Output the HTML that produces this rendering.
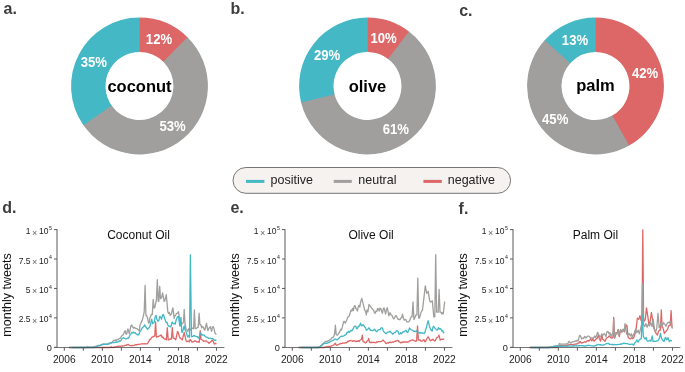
<!DOCTYPE html>
<html><head><meta charset="utf-8"><style>
html,body{margin:0;padding:0;background:#fff;}
body{width:685px;height:372px;overflow:hidden;position:relative;font-family:"Liberation Sans", sans-serif;}
svg{position:absolute;left:0;top:0;will-change:transform;}
text{font-family:"Liberation Sans", sans-serif;}
.pl{font-size:16px;font-weight:bold;fill:#3d3d3d;}
.pct{font-size:14px;font-weight:bold;fill:#fff;text-anchor:middle;}
.ctr{font-size:16.5px;font-weight:bold;fill:#000;text-anchor:middle;}
.lg{font-size:13px;fill:#222;}
.xt{font-size:10.2px;fill:#222;text-anchor:middle;}
.yt{font-size:8.5px;fill:#222;}
.tm{font-size:9px;fill:#666;}
.sup{font-size:5.2px;fill:#222;}
.ttl{font-size:12px;fill:#111;text-anchor:middle;}
.ylab{font-size:12.5px;fill:#111;text-anchor:middle;}
</style></head><body>
<svg width="685" height="372" viewBox="0 0 685 372">
<text x="3.6" y="13.9" class="pl">a.</text>
<text x="230.6" y="13.9" class="pl">b.</text>
<text x="459.2" y="15.7" class="pl">c.</text>
<text x="2.2" y="212.9" class="pl">d.</text>
<text x="230.4" y="213.1" class="pl">e.</text>
<text x="458.6" y="214.4" class="pl">f.</text>
<path d="M71.70,86 a67.80000000000001,67.80000000000001 0 1 0 135.60,0 a67.80000000000001,67.80000000000001 0 1 0 -135.60,0 Z M104.90,86 a34.6,34.6 0 1 1 69.20,0 a34.6,34.6 0 1 1 -69.20,0 Z" fill="#44b8c5" fill-rule="evenodd"/>
<path d="M139.50,17.60 A68.4,68.4 0 0 1 187.92,37.68 L163.57,61.98 A34,34 0 0 0 139.50,52.00 Z" fill="#dd6767"/>
<text x="159.00" y="44.25" class="pct" textLength="26.3" lengthAdjust="spacingAndGlyphs">12%</text>
<path d="M187.41,37.18 A68.4,68.4 0 1 1 83.01,124.56 L111.42,105.17 A34,34 0 1 0 163.31,61.73 Z" fill="#a09f9d"/>
<text x="172.56" y="130.81" class="pct" textLength="26.3" lengthAdjust="spacingAndGlyphs">53%</text>
<path d="M83.42,125.15 A68.4,68.4 0 0 1 139.50,17.60 L139.50,52.00 A34,34 0 0 0 111.62,105.46 Z" fill="#44b8c5"/>
<text x="93.78" y="67.36" class="pct" textLength="26.3" lengthAdjust="spacingAndGlyphs">35%</text>
<text x="139.5" y="91.7" class="ctr">coconut</text>
<path d="M299.70,86 a67.80000000000001,67.80000000000001 0 1 0 135.60,0 a67.80000000000001,67.80000000000001 0 1 0 -135.60,0 Z M332.90,86 a34.6,34.6 0 1 1 69.20,0 a34.6,34.6 0 1 1 -69.20,0 Z" fill="#44b8c5" fill-rule="evenodd"/>
<path d="M367.50,17.60 A68.4,68.4 0 0 1 409.48,32.00 L388.37,59.16 A34,34 0 0 0 367.50,52.00 Z" fill="#dd6767"/>
<text x="383.62" y="43.21" class="pct" textLength="26.3" lengthAdjust="spacingAndGlyphs">10%</text>
<path d="M408.91,31.56 A68.4,68.4 0 1 1 300.97,101.90 L334.43,93.90 A34,34 0 1 0 388.08,58.94 Z" fill="#a09f9d"/>
<text x="395.78" y="134.15" class="pct" textLength="26.3" lengthAdjust="spacingAndGlyphs">61%</text>
<path d="M301.14,102.59 A68.4,68.4 0 0 1 367.50,17.60 L367.50,52.00 A34,34 0 0 0 334.52,94.25 Z" fill="#44b8c5"/>
<text x="327.04" y="59.52" class="pct" textLength="26.3" lengthAdjust="spacingAndGlyphs">29%</text>
<text x="367.5" y="91.7" class="ctr">olive</text>
<path d="M527.70,86 a67.80000000000001,67.80000000000001 0 1 0 135.60,0 a67.80000000000001,67.80000000000001 0 1 0 -135.60,0 Z M560.90,86 a34.6,34.6 0 1 1 69.20,0 a34.6,34.6 0 1 1 -69.20,0 Z" fill="#44b8c5" fill-rule="evenodd"/>
<path d="M595.50,17.60 A68.4,68.4 0 0 1 628.58,145.87 L611.94,115.76 A34,34 0 0 0 595.50,52.00 Z" fill="#dd6767"/>
<text x="645.09" y="78.17" class="pct" textLength="26.3" lengthAdjust="spacingAndGlyphs">42%</text>
<path d="M629.20,145.52 A68.4,68.4 0 0 1 545.25,39.60 L570.52,62.93 A34,34 0 0 0 612.25,115.59 Z" fill="#a09f9d"/>
<text x="555.21" y="123.58" class="pct" textLength="26.3" lengthAdjust="spacingAndGlyphs">45%</text>
<path d="M544.76,40.13 A68.4,68.4 0 0 1 595.50,17.60 L595.50,52.00 A34,34 0 0 0 570.28,63.20 Z" fill="#44b8c5"/>
<text x="575.02" y="44.51" class="pct" textLength="26.3" lengthAdjust="spacingAndGlyphs">13%</text>
<text x="595.5" y="90.5" class="ctr">palm</text>
<rect x="233" y="167.5" width="277.6" height="25.8" rx="12.9" ry="12.9" fill="#f5f2ef" stroke="#767676" stroke-width="1"/>
<path d="M246,181.4 H264.4" stroke="#44b8c5" stroke-width="3"/>
<path d="M333.7,181.4 H351.8" stroke="#a09f9d" stroke-width="3"/>
<path d="M423.4,181.4 H441.8" stroke="#dd6767" stroke-width="3"/>
<text x="270.5" y="184.4" class="lg" textLength="42.4" lengthAdjust="spacingAndGlyphs">positive</text>
<text x="358.3" y="184.4" class="lg" textLength="38.2" lengthAdjust="spacingAndGlyphs">neutral</text>
<text x="447.8" y="184.4" class="lg" textLength="47.2" lengthAdjust="spacingAndGlyphs">negative</text>
<polyline points="68.9,347.5 69.0,347.5 69.8,347.5 70.6,347.5 71.4,347.5 72.2,347.5 73.0,347.5 73.8,347.5 74.6,347.5 75.4,347.5 76.2,347.5 77.0,347.5 77.8,347.5 78.6,347.5 79.4,347.5 80.2,347.5 81.0,347.5 81.8,347.5 82.6,347.5 83.4,347.5 84.2,347.5 85.0,347.5 85.7,347.5 86.5,347.5 87.3,347.5 88.1,347.5 88.9,347.5 89.7,347.5 90.5,347.5 91.3,347.5 92.1,347.5 92.9,347.5 93.7,347.5 94.5,347.5 95.3,347.5 96.1,347.5 96.9,347.5 97.7,347.5 98.5,347.5 99.3,347.5 100.1,347.5 100.9,347.5 101.7,347.5 102.5,347.5 103.3,347.5 104.1,347.5 104.9,347.5 105.7,347.5 106.5,347.5 107.3,347.5 108.1,347.5 108.8,347.5 109.6,347.5 110.4,347.5 111.2,346.8 112.0,347.5 112.8,347.5 113.6,346.9 114.4,347.5 115.2,346.8 116.0,346.6 116.7,346.6 117.5,346.3 118.3,346.5 119.0,346.1 119.8,346.1 120.6,346.3 121.3,346.1 122.1,345.9 122.8,346.2 123.6,345.9 124.4,345.8 125.1,345.4 125.9,345.4 126.6,344.9 127.2,345.0 127.9,344.4 128.6,344.6 129.3,345.4 130.0,345.7 130.8,345.7 131.5,345.5 132.3,345.4 133.0,345.6 133.8,345.3 134.5,345.0 135.3,345.0 136.1,344.6 136.9,344.8 137.7,344.4 138.4,344.4 139.2,344.3 140.0,344.2 140.8,344.1 141.7,343.9 142.5,343.6 143.3,343.9 144.2,343.9 145.0,343.6 145.8,343.8 146.7,343.8 147.5,343.6 148.3,342.2 149.0,341.1 149.8,339.4 150.5,339.3 151.3,338.0 152.0,337.0 152.7,337.0 153.4,336.7 154.1,336.1 154.8,336.1 155.6,322.0 156.4,337.0 156.9,337.0 157.7,336.7 158.4,336.7 159.2,335.8 159.9,335.9 160.7,335.2 161.4,335.0 162.1,337.5 162.8,337.0 163.5,338.0 164.2,338.8 164.9,339.1 165.6,339.2 166.3,339.9 167.3,327.7 168.2,339.9 168.9,339.8 169.6,339.1 170.3,338.8 171.0,339.0 171.5,339.0 172.3,327.7 173.2,338.0 173.8,338.0 174.8,338.8 175.7,339.9 177.6,331.4 178.6,333.6 179.5,337.0 180.2,338.1 180.9,338.6 181.6,338.8 182.3,339.9 184.2,332.3 186.1,340.8 186.9,341.6 187.6,341.3 188.4,341.0 189.2,341.7 190.1,339.4 190.8,340.6 191.4,340.7 192.1,342.1 193.0,341.8 193.9,341.4 194.8,340.8 195.7,341.1 196.6,341.7 197.5,342.1 198.4,341.9 199.3,342.1 200.2,330.7 201.0,339.4 201.6,339.4 202.3,340.1 202.9,340.3 203.6,341.4 204.5,341.1 205.4,341.1 206.3,340.8 207.2,341.9 208.1,342.2 209.0,343.4 209.8,342.5 210.7,341.8 211.5,341.0 212.3,340.1 213.0,341.0 213.6,342.0 214.3,344.1 215.7,343.4 216.5,343.5" fill="none" stroke="#dd6767" stroke-width="1.3" stroke-linejoin="round"/>
<polyline points="68.9,347.5 69.0,347.5 69.8,347.5 70.6,347.5 71.4,347.5 72.2,347.5 73.0,347.5 73.8,347.5 74.6,347.5 75.4,347.5 76.2,347.5 77.0,347.5 77.8,347.5 78.6,347.5 79.4,347.5 80.2,347.5 81.0,347.5 81.8,347.5 82.6,347.5 83.4,347.5 84.2,347.5 85.0,347.5 85.8,347.5 86.6,347.5 87.4,346.8 88.2,347.5 89.0,346.9 89.8,347.5 90.6,347.5 91.4,347.5 92.2,347.5 93.0,347.5 93.7,346.8 94.3,346.5 95.0,346.4 95.8,346.3 96.6,346.0 97.4,345.7 98.2,345.4 99.0,345.5 99.9,345.3 100.7,344.9 101.5,344.9 102.3,344.7 103.1,344.4 103.9,343.8 104.6,344.0 105.4,344.3 106.1,344.3 106.9,343.8 107.6,344.0 108.4,343.7 109.2,343.1 110.1,343.0 111.0,342.6 111.8,342.3 112.5,341.9 113.1,341.0 113.8,340.3 114.6,340.4 115.4,339.8 116.2,340.5 117.0,339.5 117.8,339.7 118.7,339.0 119.6,338.5 120.5,338.3 121.2,336.6 121.9,335.6 122.6,335.0 123.3,334.8 123.9,333.1 124.6,331.6 125.3,330.7 125.9,334.0 126.6,334.3 127.9,328.9 129.3,333.6 131.0,325.5 131.8,325.0 132.6,326.9 133.5,328.0 134.4,327.4 135.3,328.2 136.2,328.6 137.1,328.6 138.0,329.6 139.4,330.9 140.0,324.8 140.7,323.5 141.4,321.8 142.1,320.6 142.8,318.3 144.2,312.0 145.1,285.3 145.9,315.5 146.6,315.5 147.6,318.3 148.5,323.0 149.2,322.8 149.9,317.9 150.6,316.6 151.3,314.5 152.3,314.5 153.2,299.5 154.0,307.9 154.7,307.9 156.4,300.0 157.3,279.7 158.2,301.3 158.8,301.3 159.7,286.3 160.5,298.5 161.0,298.5 161.8,296.9 162.6,292.9 164.1,301.3 164.8,300.9 165.6,297.4 166.3,294.7 167.8,311.7 168.6,313.5 169.3,312.3 170.1,315.4 170.8,314.2 171.5,314.1 172.2,310.3 172.9,307.9 174.2,318.3 174.9,315.7 175.7,315.4 176.4,313.5 177.1,313.4 177.8,312.6 178.5,311.7 180.4,325.8 181.4,323.7 182.3,323.9 183.5,322.0 184.2,309.5 185.0,324.0 186.1,329.5 187.0,329.8 187.9,331.4 188.8,328.6 189.6,330.5 190.4,330.0 191.2,328.0 192.1,328.6 192.8,328.1 193.6,328.6 194.4,309.8 195.2,328.6 196.2,328.6 197.5,327.3 198.2,327.3 199.1,313.2 199.9,324.6 200.9,324.6 201.6,327.8 202.2,327.1 202.9,326.6 203.6,327.6 204.2,329.6 204.9,330.0 206.5,323.3 207.9,330.7 208.7,328.7 209.5,327.6 210.3,326.6 211.6,331.3 212.4,327.1 213.3,326.6 214.1,328.9 214.9,332.9 215.7,334.0 216.5,334.5" fill="none" stroke="#a09f9d" stroke-width="1.3" stroke-linejoin="round"/>
<polyline points="71.9,347.5 72.7,347.5 73.5,347.5 74.3,347.5 75.1,347.5 75.9,347.5 76.7,347.5 77.4,347.5 78.2,347.5 79.0,347.5 79.8,347.5 80.6,347.5 81.4,347.5 82.2,347.5 83.0,347.5 83.8,347.5 84.6,347.5 85.4,347.5 86.2,347.5 87.0,347.5 87.8,347.5 88.5,347.5 89.3,347.5 90.1,347.5 90.9,347.5 91.7,346.9 92.5,347.5 93.3,347.5 94.2,347.5 95.0,347.5 95.8,346.8 96.6,346.4 97.4,346.0 98.2,346.0 99.0,345.7 99.9,345.7 100.7,345.2 101.5,344.5 102.3,344.5 103.1,344.4 103.9,344.0 104.6,344.4 105.4,344.5 106.1,344.2 106.9,344.3 107.6,344.4 108.4,344.1 109.2,343.9 110.1,343.2 111.0,342.9 111.8,343.0 112.7,342.5 113.5,342.7 114.3,342.5 115.2,342.3 116.0,341.9 116.8,342.4 117.7,341.8 118.5,341.7 119.4,340.7 120.3,341.2 121.2,340.3 121.9,338.7 122.5,338.3 123.2,337.6 124.1,338.1 125.0,338.5 125.9,339.0 126.8,338.8 127.7,338.0 128.6,338.3 129.3,336.6 129.9,335.2 130.6,334.3 132.0,332.3 132.7,333.1 133.3,332.1 134.0,332.9 134.9,332.5 135.8,333.7 136.7,334.3 137.4,334.9 138.0,334.3 138.7,334.9 140.0,331.4 140.9,330.4 141.9,328.6 142.6,327.3 143.3,327.1 144.0,326.3 144.7,324.8 145.4,326.4 146.1,327.2 146.8,328.2 147.5,329.5 148.2,328.2 148.9,328.1 149.6,327.1 150.3,324.8 151.7,319.2 152.6,323.5 153.5,323.0 154.3,322.1 155.2,316.8 156.0,315.4 156.9,319.3 157.9,321.1 158.8,320.9 159.7,316.4 160.6,317.0 161.6,319.2 162.6,314.8 163.5,314.5 164.4,318.1 165.4,320.2 166.2,322.6 167.0,322.3 167.8,324.8 168.6,326.1 169.3,326.0 170.1,326.7 170.8,327.0 171.6,323.8 172.3,322.0 173.1,323.4 173.8,323.9 174.6,323.2 175.3,324.0 176.1,320.2 176.9,318.0 177.7,316.6 178.5,316.4 179.8,325.8 181.0,317.4 181.8,332.3 182.3,332.3 183.2,329.5 184.2,325.8 184.9,329.5 185.6,330.9 186.3,332.0 187.0,335.2 187.7,336.8 188.5,335.6 189.2,337.0 189.5,337.3 190.4,254.9 191.5,336.7 192.4,336.7 193.3,335.9 194.2,335.4 195.1,336.2 195.9,336.4 196.8,336.7 197.5,336.7 198.2,337.9 198.9,338.1 200.2,333.4 200.9,332.9 201.5,335.0 202.2,334.7 203.1,335.1 204.0,335.0 204.9,336.0 205.8,336.8 206.7,337.1 207.6,337.4 208.5,338.4 209.4,338.1 210.3,338.1 211.2,338.8 212.1,338.4 213.0,338.7 213.9,339.9 214.8,340.3 215.7,340.1 216.5,340.3" fill="none" stroke="#44b8c5" stroke-width="1.3" stroke-linejoin="round"/>
<polyline points="298.6,347.5 299.4,347.5 300.2,347.5 301.0,347.5 301.8,347.5 302.6,347.5 303.4,347.5 304.2,347.5 304.9,347.5 305.7,347.5 306.5,347.5 307.3,347.5 308.1,347.5 308.9,347.5 309.7,347.5 310.5,347.5 311.3,347.5 312.1,347.5 312.9,347.5 313.7,347.5 314.5,347.5 315.3,347.5 316.0,347.5 316.8,347.5 317.6,347.5 318.4,347.5 319.2,347.5 320.0,347.5 320.8,347.5 321.6,347.5 322.4,347.5 323.2,347.5 324.0,347.5 324.8,347.5 325.6,346.9 326.4,346.8 327.2,346.6 328.0,346.5 328.8,346.4 329.5,346.5 330.3,346.4 331.1,346.1 331.8,345.9 332.5,345.7 333.2,345.1 333.9,344.9 335.3,343.2 336.2,345.1 337.0,345.3 337.8,344.7 338.6,344.6 340.0,343.7 340.8,343.5 341.5,343.4 342.2,343.6 343.0,343.0 343.8,343.1 344.5,343.2 345.3,342.7 346.1,342.9 346.9,342.2 347.8,341.2 348.6,341.6 349.4,340.8 350.2,340.5 351.0,340.7 351.8,340.8 352.6,341.4 353.4,340.7 354.2,340.8 355.0,341.0 355.8,341.7 356.6,341.1 357.4,341.4 358.2,340.8 359.0,341.6 359.8,340.3 360.7,339.7 361.5,339.2 362.3,335.2 363.1,341.6 363.9,341.9 364.7,342.2 365.5,343.0 366.3,342.4 367.1,341.0 367.9,340.4 368.7,338.4 369.5,342.4 370.3,342.4 371.1,342.8 371.9,342.0 372.7,342.5 373.5,342.4 374.3,342.3 375.1,342.7 375.9,342.8 376.8,341.8 377.6,342.2 378.4,341.6 379.3,341.6 380.1,341.6 381.0,341.6 381.7,341.2 382.5,340.4 383.2,340.0 384.0,341.2 384.8,341.8 385.6,343.2 386.3,343.6 387.1,342.9 387.8,342.9 388.5,343.1 389.3,342.2 390.0,342.4 390.2,342.0 391.1,342.7 391.9,342.2 392.8,341.8 393.7,342.0 394.4,341.5 395.2,341.2 395.9,341.3 396.6,340.8 397.4,340.4 398.1,340.3 399.0,341.7 399.8,342.1 400.7,342.9 401.6,342.2 402.4,342.5 403.3,341.8 404.2,342.0 405.1,342.0 405.9,342.1 406.8,341.8 407.7,342.0 408.6,341.9 409.4,340.9 410.3,340.9 411.2,340.3 412.1,339.8 412.9,340.0 413.8,340.4 414.7,341.1 415.7,341.0 416.6,341.1 417.5,326.0 418.4,340.0 419.3,340.0 420.1,339.9 420.9,341.2 421.7,341.1 422.4,340.8 423.2,340.0 424.0,339.9 424.8,341.6 425.6,341.6 426.4,339.5 427.3,338.0 428.1,336.8 428.9,338.2 429.7,339.9 430.5,340.8 431.3,339.8 432.1,340.0 432.9,339.2 433.7,340.2 434.5,340.9 435.3,340.8 436.1,338.8 436.9,337.6 437.6,337.2 438.3,336.6 439.0,335.2 440.2,340.0 441.0,339.5 441.8,339.2 442.6,339.3 443.4,339.2 444.2,338.7" fill="none" stroke="#dd6767" stroke-width="1.3" stroke-linejoin="round"/>
<polyline points="298.6,347.5 299.4,347.5 300.2,347.5 301.0,347.5 301.8,347.5 302.6,347.5 303.4,347.5 304.3,347.5 305.1,347.5 305.9,347.5 306.7,347.5 307.5,347.5 308.3,347.5 309.1,347.5 309.9,347.5 310.7,347.5 311.5,347.5 312.3,347.5 313.1,347.5 314.0,347.5 314.8,347.5 315.6,347.5 316.4,347.5 317.2,347.5 318.0,347.5 318.8,347.5 319.5,346.6 320.2,346.2 320.9,345.5 321.6,345.1 322.4,344.1 323.2,343.4 324.0,342.8 324.9,341.9 325.9,341.4 326.7,341.6 327.4,341.1 328.2,340.9 329.1,340.4 330.1,339.7 331.1,339.1 332.0,337.6 332.9,337.6 333.9,336.2 334.6,333.8 335.4,325.2 336.2,334.8 337.6,335.2 338.4,333.8 339.1,332.9 340.0,331.0 340.7,329.1 341.4,330.0 342.1,327.9 343.7,321.5 344.5,321.5 345.3,323.1 346.1,321.5 346.9,319.8 347.7,317.3 348.5,316.6 349.4,315.7 350.2,312.6 351.0,310.1 351.8,311.0 352.6,308.3 353.4,310.6 354.2,306.1 355.0,305.6 355.8,308.5 356.6,309.2 357.4,311.0 358.2,307.1 359.0,305.3 359.8,307.1 360.6,302.1 361.8,298.3 363.1,303.7 364.7,310.2 365.5,310.9 366.3,315.0 367.1,309.8 367.9,311.8 369.0,304.5 370.3,306.1 371.0,307.2 371.6,308.3 372.3,308.5 373.0,309.8 373.7,310.4 374.4,312.6 375.2,313.3 376.0,311.0 376.8,311.5 377.6,308.5 378.4,308.8 379.2,311.0 380.0,308.2 380.8,308.5 381.6,311.1 382.4,313.4 383.2,309.1 384.0,307.7 385.6,314.2 386.5,309.2 387.3,307.7 388.9,315.8 390.0,312.6 391.1,314.9 392.0,315.4 392.9,317.6 393.8,318.9 394.6,317.6 395.5,315.8 396.4,315.6 397.2,318.0 398.1,319.3 399.0,319.2 399.8,319.8 400.7,318.4 401.6,317.8 402.5,314.1 403.4,318.3 404.2,320.2 405.1,319.7 405.9,319.5 406.8,321.9 407.7,321.8 408.6,321.8 409.5,321.0 410.4,318.6 411.2,316.7 412.1,316.7 413.0,302.0 413.9,319.3 414.3,319.3 415.1,316.9 415.9,314.9 416.9,314.9 417.8,278.2 418.7,318.0 419.5,318.0 420.6,314.0 421.6,310.9 422.5,310.2 425.3,285.8 426.7,293.3 427.4,292.6 428.2,291.4 429.7,300.8 430.6,302.1 431.6,301.3 432.3,300.8 433.8,316.8 434.8,316.8 435.7,254.7 436.6,312.1 437.2,312.1 438.2,312.1 439.1,289.5 440.0,312.1 441.0,312.1 441.7,314.0 442.5,312.7 443.2,314.0 444.7,301.7" fill="none" stroke="#a09f9d" stroke-width="1.3" stroke-linejoin="round"/>
<polyline points="300.7,347.5 301.5,347.5 302.3,347.5 303.1,347.5 303.8,347.5 304.6,347.5 305.4,347.5 306.2,347.5 307.0,347.5 307.8,347.5 308.6,347.5 309.4,347.5 310.1,347.5 310.9,347.5 311.7,347.5 312.5,347.5 313.3,347.5 314.1,347.5 314.9,347.5 315.7,347.5 316.4,347.5 317.2,347.5 318.0,347.5 318.8,347.5 319.5,346.7 320.2,346.5 320.9,345.9 321.6,345.6 322.3,345.0 323.1,344.3 323.8,343.6 324.5,343.2 325.2,343.3 325.9,343.2 326.6,343.3 327.3,343.2 328.0,342.7 328.7,342.3 329.4,342.6 330.1,341.8 330.8,341.3 331.5,341.2 332.2,340.8 332.9,340.4 333.7,340.2 334.5,339.2 335.3,339.0 336.2,339.4 337.2,339.9 338.6,338.5 340.0,337.1 340.8,336.5 341.5,336.1 342.2,336.5 343.0,336.2 343.8,335.9 344.5,335.2 345.3,335.1 346.1,334.7 346.9,332.5 347.7,332.7 348.5,331.2 349.4,332.3 350.2,331.1 351.0,330.3 351.8,331.0 352.6,329.5 353.4,328.5 354.2,326.3 355.0,326.3 355.8,326.2 356.6,328.7 357.4,328.7 358.2,326.2 359.0,326.3 359.8,325.2 360.6,323.1 361.5,325.8 362.3,325.5 363.1,324.6 364.0,326.0 364.8,327.1 365.5,327.3 366.3,330.3 367.1,329.8 367.9,329.2 368.7,327.9 369.5,328.4 370.3,330.3 371.1,330.1 371.9,330.3 372.7,330.6 373.5,330.3 374.3,329.2 375.1,329.8 376.0,331.1 376.8,331.9 377.6,330.6 378.4,329.8 379.2,329.5 380.0,329.8 380.8,328.2 381.6,327.9 382.4,327.8 383.2,330.8 384.0,331.9 384.8,332.6 385.7,333.5 386.5,333.5 387.4,332.2 388.2,332.2 389.1,332.0 390.0,331.1 390.7,332.0 391.3,332.9 392.0,333.3 392.9,334.2 393.8,333.0 394.6,332.7 395.5,332.4 396.4,330.8 397.2,330.7 398.1,331.5 398.9,334.1 399.8,334.1 400.7,332.7 401.6,333.7 402.5,332.4 403.4,331.6 404.2,331.8 405.1,330.7 406.0,330.2 406.8,332.1 407.7,332.4 408.6,330.7 409.5,328.0 410.4,329.0 411.2,329.8 412.1,330.3 412.9,330.3 413.8,331.5 414.7,331.1 415.5,331.5 416.4,330.7 417.3,332.0 418.2,332.5 419.1,332.4 420.0,333.2 420.8,332.5 421.7,333.3 422.5,332.8 423.2,333.0 424.0,333.5 424.8,332.7 425.6,330.0 426.5,327.1 428.1,320.6 429.7,327.1 430.5,329.1 431.3,330.3 432.1,331.0 432.9,327.3 433.7,326.3 434.5,327.6 435.3,328.7 436.1,329.2 436.9,330.2 437.7,329.5 438.5,327.7 439.4,329.1 440.2,328.4 441.0,329.3 441.8,331.1 442.6,330.5 443.4,332.9 444.2,332.3" fill="none" stroke="#44b8c5" stroke-width="1.3" stroke-linejoin="round"/>
<polyline points="529.5,347.5 530.3,347.5 531.1,347.5 531.9,347.5 532.7,347.5 533.5,347.5 534.3,347.5 535.1,347.5 535.9,347.5 536.7,347.5 537.5,347.5 538.3,347.5 539.1,347.5 539.9,347.5 540.7,347.5 541.5,347.5 542.3,347.5 543.2,347.5 544.0,347.5 544.8,347.5 545.6,347.5 546.4,347.5 547.2,347.5 548.0,347.5 548.8,347.5 549.6,347.5 550.4,347.5 551.2,347.5 552.0,347.5 552.8,347.5 553.6,347.5 554.4,347.5 555.2,347.5 556.0,347.5 556.9,347.5 557.7,346.7 558.6,346.6 559.5,345.4 560.3,345.7 561.2,345.3 562.0,345.6 562.8,345.7 563.6,345.6 564.4,345.7 565.2,345.6 566.0,345.6 566.8,345.7 567.6,345.1 568.4,345.0 569.2,345.0 570.0,344.2 570.8,344.4 571.6,344.5 572.4,344.6 573.2,344.7 574.0,344.3 574.8,344.2 575.5,344.2 576.2,344.0 576.9,343.8 577.6,343.6 578.2,343.1 578.9,343.0 580.1,341.4 581.3,343.0 582.1,342.9 582.9,342.6 583.7,342.3 584.5,341.8 585.2,342.0 586.0,342.0 587.3,340.8 588.1,340.4 588.9,341.2 589.7,340.1 590.5,338.8 591.7,340.8 592.9,339.2 594.1,341.2 594.9,340.2 595.7,339.6 596.5,338.7 597.3,338.4 598.4,334.8 599.4,338.4 600.6,341.2 601.8,334.4 602.6,339.2 603.8,340.0 605.0,341.2 605.8,339.3 606.6,338.0 608.0,337.4 609.2,335.8 610.4,337.4 611.2,337.8 612.0,338.2 613.0,337.0 613.7,317.4 614.5,338.2 615.2,336.7 615.8,334.1 616.5,332.6 617.3,332.4 618.1,329.4 619.3,336.6 620.5,330.2 621.3,330.3 622.1,331.8 623.3,329.4 624.5,331.8 626.2,324.9 627.1,326.1 627.9,336.6 629.0,338.2 630.2,339.0 631.0,338.4 631.8,337.4 632.6,338.5 633.8,337.5 635.0,333.9 636.2,327.8 637.4,318.1 638.7,319.4 639.9,315.7 641.1,320.6 642.0,322.0 642.8,229.8 643.6,322.0 644.5,320.5 645.3,319.4 646.5,307.8 647.7,315.7 648.9,324.2 650.1,321.8 651.4,312.5 652.6,319.4 653.8,327.8 654.7,330.5 655.6,332.7 656.5,333.7 657.4,335.1 658.3,332.1 659.2,330.2 660.4,330.2 661.3,310.0 662.1,327.1 662.7,327.1 663.5,329.6 664.4,333.5 665.2,332.3 666.0,331.4 666.8,330.3 667.6,329.2 668.4,326.4 669.2,325.5 670.2,325.5 671.1,310.6 672.0,327.1 672.4,327.1" fill="none" stroke="#dd6767" stroke-width="1.3" stroke-linejoin="round"/>
<polyline points="529.5,347.5 530.3,347.5 531.1,347.5 531.9,347.5 532.7,347.5 533.5,347.5 534.3,347.5 535.1,347.5 535.9,347.5 536.7,347.5 537.5,347.5 538.3,347.5 539.2,347.5 540.0,347.5 540.8,347.5 541.6,347.5 542.4,347.5 543.2,347.5 544.0,347.5 544.8,347.5 545.6,347.5 546.4,347.5 547.2,347.5 548.0,347.5 548.9,347.5 549.7,347.5 550.5,346.8 551.4,346.6 552.2,346.7 553.1,346.6 553.9,346.2 554.7,346.1 555.5,346.3 556.3,345.9 557.1,345.6 557.9,345.6 558.6,345.4 559.4,343.5 560.2,343.9 561.1,344.2 561.9,344.2 562.7,344.2 563.5,344.2 564.3,344.1 565.2,344.1 566.0,343.8 566.8,344.1 567.6,344.0 568.8,341.4 570.0,342.2 570.8,342.8 571.6,342.6 572.4,341.8 573.2,341.8 574.0,341.6 574.8,341.4 575.6,340.9 576.5,341.0 577.3,340.3 578.1,341.1 579.5,335.3 580.5,336.1 581.7,339.0 582.9,338.1 583.6,338.4 584.8,336.4 586.0,338.0 587.3,336.4 588.5,336.0 589.7,336.8 590.9,338.4 592.1,337.6 593.3,338.8 594.5,336.0 595.7,337.6 596.9,334.4 597.7,332.3 598.5,334.4 599.8,336.8 601.0,336.0 601.8,334.0 603.0,335.2 604.2,333.5 605.4,335.2 606.0,336.6 606.8,331.8 608.0,331.4 609.2,334.2 610.0,332.6 611.2,336.6 612.5,333.4 613.0,334.0 613.7,319.5 614.4,337.4 615.7,332.6 616.9,334.2 618.1,330.2 618.9,335.0 619.7,332.4 620.5,329.4 621.7,332.6 622.9,329.4 624.1,331.8 625.0,323.7 625.8,328.5 626.6,334.2 627.8,335.0 629.0,333.4 630.2,335.8 631.4,333.8 632.2,337.0 633.2,335.1 634.4,332.7 635.6,329.0 636.8,332.7 638.0,330.2 639.3,333.9 640.5,329.0 641.7,324.2 642.5,283.6 643.3,324.2 644.7,326.6 645.9,323.6 647.1,327.2 648.3,324.2 649.5,326.0 650.7,322.4 652.0,326.6 653.2,319.4 654.4,329.0 655.6,332.1 656.8,327.8 658.0,313.2 659.2,327.8 660.4,325.4 661.1,322.3 661.9,324.2 662.7,324.7 663.5,322.5 664.4,323.9 665.2,324.8 666.0,326.3 666.8,324.4 667.6,322.8 668.4,322.3 669.2,322.9 670.0,321.6 670.8,321.5 672.4,328.7" fill="none" stroke="#a09f9d" stroke-width="1.3" stroke-linejoin="round"/>
<polyline points="531.2,347.5 532.0,347.5 532.8,347.5 533.6,347.5 534.4,347.5 535.3,347.5 536.1,347.5 536.9,347.5 537.7,347.5 538.5,347.5 539.3,347.5 540.1,347.5 540.9,347.5 541.8,347.5 542.6,347.5 543.4,347.5 544.2,347.5 545.0,347.5 545.8,347.5 546.6,347.5 547.4,347.5 548.2,347.5 549.0,347.5 549.9,346.9 550.7,347.5 551.5,346.8 552.3,346.6 553.1,346.6 553.9,346.3 554.7,346.5 555.5,346.2 556.3,346.4 557.1,346.2 557.9,346.3 558.7,346.1 559.5,345.9 560.3,346.4 561.1,346.2 561.9,346.3 562.8,346.2 563.6,346.2 564.4,346.3 565.2,346.0 566.0,346.1 566.8,346.1 567.6,346.4 568.4,346.2 569.2,346.2 570.0,346.2 570.8,346.1 571.6,346.1 572.4,346.0 573.2,346.0 574.0,346.0 574.8,345.7 575.7,346.0 576.5,345.6 577.3,345.8 578.1,345.8 578.9,345.4 579.7,345.8 580.5,345.7 581.3,345.6 582.0,345.7 582.8,345.7 583.5,346.0 584.3,345.8 585.0,346.1 585.7,346.0 586.5,345.5 587.2,345.4 587.9,345.6 588.7,345.3 589.4,345.3 590.1,345.5 590.9,345.7 591.6,345.8 592.4,345.8 593.1,346.0 593.9,346.1 594.6,346.0 595.4,345.5 596.1,345.5 596.8,344.8 597.6,344.8 598.3,344.6 599.0,344.5 599.8,344.9 600.5,344.7 601.3,345.1 602.0,345.0 602.8,345.3 603.5,344.8 604.3,344.9 605.0,344.3 605.7,344.0 606.5,343.7 607.2,343.5 607.9,343.6 608.7,343.4 609.4,344.5 610.1,344.4 610.9,344.4 611.6,344.6 612.5,344.4 613.3,344.8 614.1,344.3 615.0,344.7 615.9,344.6 616.7,344.6 617.6,344.7 618.5,344.4 619.4,344.4 620.3,344.3 621.0,343.8 621.8,344.1 622.5,343.6 623.3,343.4 624.1,343.2 624.8,343.5 625.6,343.6 626.4,343.6 627.3,343.5 628.1,343.9 629.0,344.3 629.9,344.4 630.7,344.3 631.6,344.1 632.3,344.1 633.1,344.8 633.8,345.1 634.7,343.0 636.0,341.6 636.9,339.9 637.9,342.1 639.1,340.3 640.4,339.0 641.3,338.6 642.3,315.0 643.3,336.4 644.3,338.1 645.2,339.0 646.1,337.3 647.0,340.8 648.3,341.2 649.6,340.3 650.9,341.2 652.2,336.0 653.1,341.6 654.4,341.2 655.3,341.3 656.2,341.2 657.0,340.8 657.9,340.8 659.2,338.6 660.5,333.3 661.4,338.1 662.7,340.3 664.1,341.6 665.4,337.3 666.7,339.9 668.0,337.7 669.3,341.6 670.6,340.3 671.9,340.8 672.1,340.8" fill="none" stroke="#44b8c5" stroke-width="1.3" stroke-linejoin="round"/>
<path d="M57.0,229.2 V347.3" stroke="#333" stroke-opacity="0.8" stroke-width="1" fill="none"/>
<path d="M54.0,347.5 H224.4" stroke="#333" stroke-opacity="0.68" stroke-width="1" fill="none"/>
<path d="M54.0,347.30 H57.0" stroke="#5a5a5a" stroke-width="1"/>
<path d="M54.0,317.88 H57.0" stroke="#5a5a5a" stroke-width="1"/>
<path d="M54.0,288.45 H57.0" stroke="#5a5a5a" stroke-width="1"/>
<path d="M54.0,259.02 H57.0" stroke="#5a5a5a" stroke-width="1"/>
<path d="M54.0,229.60 H57.0" stroke="#5a5a5a" stroke-width="1"/>
<path d="M64.30,347.5 V350.7" stroke="#5a5a5a" stroke-width="1"/>
<path d="M83.32,347.5 V350.7" stroke="#5a5a5a" stroke-width="1"/>
<path d="M102.34,347.5 V350.7" stroke="#5a5a5a" stroke-width="1"/>
<path d="M121.36,347.5 V350.7" stroke="#5a5a5a" stroke-width="1"/>
<path d="M140.38,347.5 V350.7" stroke="#5a5a5a" stroke-width="1"/>
<path d="M159.40,347.5 V350.7" stroke="#5a5a5a" stroke-width="1"/>
<path d="M178.42,347.5 V350.7" stroke="#5a5a5a" stroke-width="1"/>
<path d="M197.44,347.5 V350.7" stroke="#5a5a5a" stroke-width="1"/>
<path d="M216.46,347.5 V350.7" stroke="#5a5a5a" stroke-width="1"/>
<text x="64.30" y="362.7" class="xt">2006</text>
<text x="102.34" y="362.7" class="xt">2010</text>
<text x="140.38" y="362.7" class="xt">2014</text>
<text x="178.42" y="362.7" class="xt">2018</text>
<text x="216.46" y="362.7" class="xt">2022</text>
<text x="51.8" y="350.80" class="yt" text-anchor="end" style="font-size:9.2px">0</text>
<text x="30.6" y="322.48" class="yt" text-anchor="end">2.5</text>
<text x="34.6" y="323.77" class="tm" text-anchor="middle">×</text>
<text x="48.4" y="322.48" class="yt" text-anchor="end">10</text>
<text x="48.9" y="318.27" class="sup">4</text>
<text x="30.6" y="293.05" class="yt" text-anchor="end">5</text>
<text x="34.6" y="294.35" class="tm" text-anchor="middle">×</text>
<text x="48.4" y="293.05" class="yt" text-anchor="end">10</text>
<text x="48.9" y="288.85" class="sup">4</text>
<text x="30.6" y="263.62" class="yt" text-anchor="end">7.5</text>
<text x="34.6" y="264.92" class="tm" text-anchor="middle">×</text>
<text x="48.4" y="263.62" class="yt" text-anchor="end">10</text>
<text x="48.9" y="259.42" class="sup">4</text>
<text x="30.6" y="234.20" class="yt" text-anchor="end">1</text>
<text x="34.6" y="235.50" class="tm" text-anchor="middle">×</text>
<text x="48.4" y="234.20" class="yt" text-anchor="end">10</text>
<text x="48.9" y="230.00" class="sup">5</text>
<text x="138.5" y="238.8" class="ttl">Coconut Oil</text>
<text transform="translate(11.0,295.0) rotate(-90)" class="ylab">monthly tweets</text>
<path d="M285.0,229.2 V347.3" stroke="#333" stroke-opacity="0.8" stroke-width="1" fill="none"/>
<path d="M282.0,347.5 H452.4" stroke="#333" stroke-opacity="0.68" stroke-width="1" fill="none"/>
<path d="M282.0,347.30 H285.0" stroke="#5a5a5a" stroke-width="1"/>
<path d="M282.0,317.88 H285.0" stroke="#5a5a5a" stroke-width="1"/>
<path d="M282.0,288.45 H285.0" stroke="#5a5a5a" stroke-width="1"/>
<path d="M282.0,259.02 H285.0" stroke="#5a5a5a" stroke-width="1"/>
<path d="M282.0,229.60 H285.0" stroke="#5a5a5a" stroke-width="1"/>
<path d="M292.30,347.5 V350.7" stroke="#5a5a5a" stroke-width="1"/>
<path d="M311.32,347.5 V350.7" stroke="#5a5a5a" stroke-width="1"/>
<path d="M330.34,347.5 V350.7" stroke="#5a5a5a" stroke-width="1"/>
<path d="M349.36,347.5 V350.7" stroke="#5a5a5a" stroke-width="1"/>
<path d="M368.38,347.5 V350.7" stroke="#5a5a5a" stroke-width="1"/>
<path d="M387.40,347.5 V350.7" stroke="#5a5a5a" stroke-width="1"/>
<path d="M406.42,347.5 V350.7" stroke="#5a5a5a" stroke-width="1"/>
<path d="M425.44,347.5 V350.7" stroke="#5a5a5a" stroke-width="1"/>
<path d="M444.46,347.5 V350.7" stroke="#5a5a5a" stroke-width="1"/>
<text x="292.30" y="362.7" class="xt">2006</text>
<text x="330.34" y="362.7" class="xt">2010</text>
<text x="368.38" y="362.7" class="xt">2014</text>
<text x="406.42" y="362.7" class="xt">2018</text>
<text x="444.46" y="362.7" class="xt">2022</text>
<text x="279.8" y="350.80" class="yt" text-anchor="end" style="font-size:9.2px">0</text>
<text x="258.6" y="322.48" class="yt" text-anchor="end">2.5</text>
<text x="262.6" y="323.77" class="tm" text-anchor="middle">×</text>
<text x="276.4" y="322.48" class="yt" text-anchor="end">10</text>
<text x="276.9" y="318.27" class="sup">4</text>
<text x="258.6" y="293.05" class="yt" text-anchor="end">5</text>
<text x="262.6" y="294.35" class="tm" text-anchor="middle">×</text>
<text x="276.4" y="293.05" class="yt" text-anchor="end">10</text>
<text x="276.9" y="288.85" class="sup">4</text>
<text x="258.6" y="263.62" class="yt" text-anchor="end">7.5</text>
<text x="262.6" y="264.92" class="tm" text-anchor="middle">×</text>
<text x="276.4" y="263.62" class="yt" text-anchor="end">10</text>
<text x="276.9" y="259.42" class="sup">4</text>
<text x="258.6" y="234.20" class="yt" text-anchor="end">1</text>
<text x="262.6" y="235.50" class="tm" text-anchor="middle">×</text>
<text x="276.4" y="234.20" class="yt" text-anchor="end">10</text>
<text x="276.9" y="230.00" class="sup">5</text>
<text x="371.1" y="238.8" class="ttl">Olive Oil</text>
<text transform="translate(239.0,295.0) rotate(-90)" class="ylab">monthly tweets</text>
<path d="M513.0,229.2 V347.3" stroke="#333" stroke-opacity="0.8" stroke-width="1" fill="none"/>
<path d="M510.0,347.5 H680.4" stroke="#333" stroke-opacity="0.68" stroke-width="1" fill="none"/>
<path d="M510.0,347.30 H513.0" stroke="#5a5a5a" stroke-width="1"/>
<path d="M510.0,317.88 H513.0" stroke="#5a5a5a" stroke-width="1"/>
<path d="M510.0,288.45 H513.0" stroke="#5a5a5a" stroke-width="1"/>
<path d="M510.0,259.02 H513.0" stroke="#5a5a5a" stroke-width="1"/>
<path d="M510.0,229.60 H513.0" stroke="#5a5a5a" stroke-width="1"/>
<path d="M520.30,347.5 V350.7" stroke="#5a5a5a" stroke-width="1"/>
<path d="M539.32,347.5 V350.7" stroke="#5a5a5a" stroke-width="1"/>
<path d="M558.34,347.5 V350.7" stroke="#5a5a5a" stroke-width="1"/>
<path d="M577.36,347.5 V350.7" stroke="#5a5a5a" stroke-width="1"/>
<path d="M596.38,347.5 V350.7" stroke="#5a5a5a" stroke-width="1"/>
<path d="M615.40,347.5 V350.7" stroke="#5a5a5a" stroke-width="1"/>
<path d="M634.42,347.5 V350.7" stroke="#5a5a5a" stroke-width="1"/>
<path d="M653.44,347.5 V350.7" stroke="#5a5a5a" stroke-width="1"/>
<path d="M672.46,347.5 V350.7" stroke="#5a5a5a" stroke-width="1"/>
<text x="520.30" y="362.7" class="xt">2006</text>
<text x="558.34" y="362.7" class="xt">2010</text>
<text x="596.38" y="362.7" class="xt">2014</text>
<text x="634.42" y="362.7" class="xt">2018</text>
<text x="672.46" y="362.7" class="xt">2022</text>
<text x="507.8" y="350.80" class="yt" text-anchor="end" style="font-size:9.2px">0</text>
<text x="486.6" y="322.48" class="yt" text-anchor="end">2.5</text>
<text x="490.6" y="323.77" class="tm" text-anchor="middle">×</text>
<text x="504.4" y="322.48" class="yt" text-anchor="end">10</text>
<text x="504.9" y="318.27" class="sup">4</text>
<text x="486.6" y="293.05" class="yt" text-anchor="end">5</text>
<text x="490.6" y="294.35" class="tm" text-anchor="middle">×</text>
<text x="504.4" y="293.05" class="yt" text-anchor="end">10</text>
<text x="504.9" y="288.85" class="sup">4</text>
<text x="486.6" y="263.62" class="yt" text-anchor="end">7.5</text>
<text x="490.6" y="264.92" class="tm" text-anchor="middle">×</text>
<text x="504.4" y="263.62" class="yt" text-anchor="end">10</text>
<text x="504.9" y="259.42" class="sup">4</text>
<text x="486.6" y="234.20" class="yt" text-anchor="end">1</text>
<text x="490.6" y="235.50" class="tm" text-anchor="middle">×</text>
<text x="504.4" y="234.20" class="yt" text-anchor="end">10</text>
<text x="504.9" y="230.00" class="sup">5</text>
<text x="595.4" y="238.8" class="ttl">Palm Oil</text>
<text transform="translate(467.0,295.0) rotate(-90)" class="ylab">monthly tweets</text>
</svg>
</body></html>
